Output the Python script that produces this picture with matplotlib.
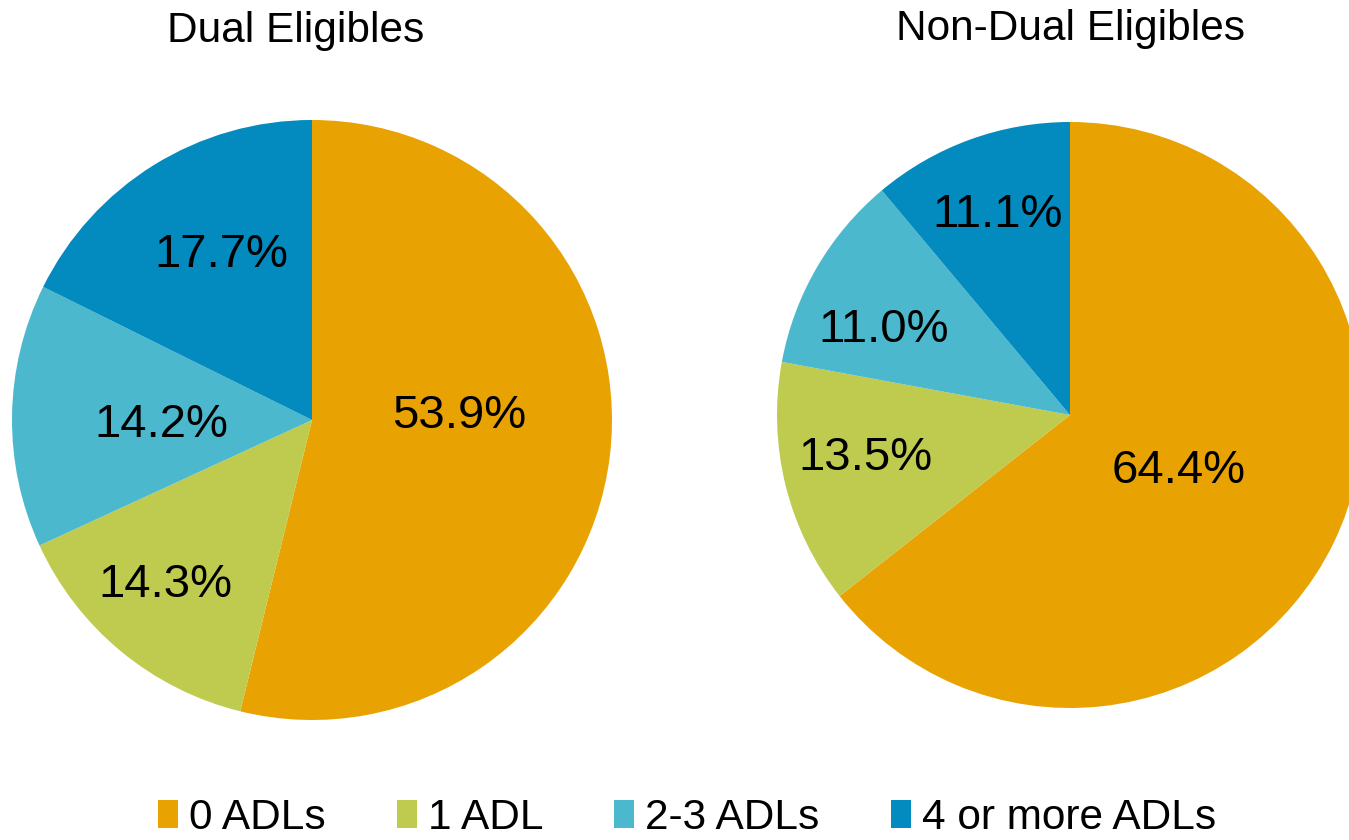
import matplotlib
matplotlib.use("Agg")
import matplotlib.pyplot as plt
from matplotlib.patches import Rectangle

plt.rcParams['font.family'] = ['Liberation Sans', 'DejaVu Sans']

categories = ['0 ADLs', '1 ADL', '2-3 ADLs', '4 or more ADLs']
dual_values = [53.9, 14.3, 14.2, 17.7]
nondual_values = [64.4, 13.5, 11.0, 11.1]
colors = ['#E8A202', '#BFCB4F', '#4BB8CD', '#038ABE']

# label anchor (text centre x, baseline y) as fractions of the pie radius
dual_label_pos = [(0.49, -0.027), (-0.488, -0.59), (-0.503, -0.057), (-0.303, 0.51)]
nondual_label_pos = [(0.372, -0.232), (-0.698, -0.188), (-0.635, 0.249), (-0.246, 0.642)]

W, H = 1349, 840
fig = plt.figure(figsize=(W / 100, H / 100), dpi=100)


def draw_pie(box, values, title, label_pos, title_xy):
    # box is (left, top, size) in pixels
    left, top, size = box
    ax = fig.add_axes([left / W, (H - top - size) / H, size / W, size / H])
    ax.pie(values, colors=colors, startangle=90, counterclock=False,
           wedgeprops=dict(linewidth=0))
    for v, (x, y) in zip(values, label_pos):
        ax.text(x, y, f'{v:.1f}%', ha='center', va='baseline', fontsize=34)
    ax.set_xlim(-1, 1)
    ax.set_ylim(-1, 1)
    ax.set_aspect('equal')
    fig.text(title_xy[0] / W, 1 - title_xy[1] / H, title, ha='center', va='baseline',
             fontsize=30.5)


draw_pie((12, 120, 600), dual_values, 'Dual Eligibles', dual_label_pos, (295.5, 42))
draw_pie((777, 122, 586), nondual_values, 'Non-Dual Eligibles', nondual_label_pos, (1070, 40))

handles = [Rectangle((0, 0), 1, 1, facecolor=c, edgecolor='none') for c in colors]
fig.legend(handles, categories, loc='center', bbox_to_anchor=(687 / W, 1 - 818 / H),
           ncol=4, frameon=False, fontsize=30.5, handlelength=0.47, handleheight=0.62,
           handletextpad=0.26, columnspacing=1.68, borderpad=0)

fig.savefig('out.png', dpi=100)
